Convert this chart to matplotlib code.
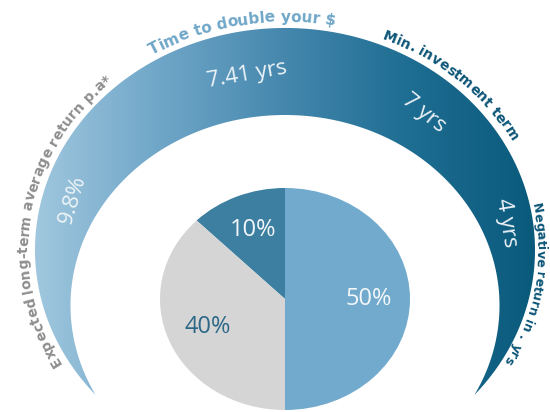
import numpy as np
import matplotlib
matplotlib.use('Agg')
import matplotlib.pyplot as plt
from matplotlib.colors import LinearSegmentedColormap
from matplotlib.font_manager import FontProperties
from matplotlib.path import Path
from matplotlib.patches import PathPatch

# what the chart says
metric_names = ['Expected long-term average return p.a*', 'Time to double your $',
                'Min. investment term', 'Negative return in . yrs']
metric_values = ['9.8%', '7.41 yrs', '7 yrs', '4 yrs']
alloc_labels = ['10%', '40%', '50%']
# wedge sizes as they are drawn in the picture (the 10% slice is drawn ~45 deg)
alloc_sizes = [12.5, 37.5, 50]

# layout (angles in degrees, counter-clockwise from 3 o'clock)
name_angles = [171, 100, 48, -9]
name_sizes = [10, 11, 10, 9]
name_gaps = [7, 7, 7, 2]
name_colors = ['#8e8e8e', '#6fa7c9', '#0d5677', '#0d5677']
value_angles = [165, 101, 48, 8]
alloc_colors = ['#3c7fa0', '#d5d5d5', '#71aacd']
alloc_text_colors = ['#f3f7f9', '#2c6886', '#f3f7f9']

W, H = 550, 412
K = 1.126  # picture is squashed vertically

fig = plt.figure(figsize=(5.5, 4.12), dpi=100)
ax = fig.add_axes([0, 0, 1, 1])


def dy(py):
    # pixel row -> data y
    return (H - py) * K


cx = 285
R_out, oy = 250, dy(250)
R_in, iy = 214.5, dy(305.5)

# crescent band: inside outer circle, outside inner circle
d = oy - iy
a = (d**2 + R_out**2 - R_in**2) / (2 * d)
h = np.sqrt(R_out**2 - a**2)
t_left = np.arctan2(-a, -h) + 2 * np.pi
t_right = np.arctan2(-a, h)
th_o = np.linspace(t_left, t_right, 400)
u_right = np.arctan2(d - a, h)
u_left = np.arctan2(d - a, -h) + 2 * np.pi
th_i = np.linspace(u_right, u_left, 400)
verts = np.vstack([np.column_stack([cx + R_out * np.cos(th_o), oy + R_out * np.sin(th_o)]),
                   np.column_stack([cx + R_in * np.cos(th_i), iy + R_in * np.sin(th_i)])])
band = PathPatch(Path(np.vstack([verts, verts[:1]]), closed=True),
                 transform=ax.transData, fc='none', ec='none')
ax.add_patch(band)

cmap = LinearSegmentedColormap.from_list('band', ['#a0c7de', '#6fa6c8', '#4587ad', '#1e6d92', '#0a5a7c'])
grad = np.linspace(0, 1, 256).reshape(1, -1)
im = ax.imshow(grad, extent=[cx - R_out, cx + R_out, 0, H * K], cmap=cmap,
               aspect='auto', interpolation='bicubic', zorder=1)
im.set_clip_path(band)

# pie
pie_c = (cx, dy(299))
pie_r = 125
wedges, _ = ax.pie(alloc_sizes, colors=alloc_colors, startangle=90, counterclock=True,
                   center=pie_c, radius=pie_r, wedgeprops=dict(linewidth=0))
for w, lab, col in zip(wedges, alloc_labels, alloc_text_colors):
    mid = np.deg2rad((w.theta1 + w.theta2) / 2)
    ax.text(pie_c[0] + 0.67 * pie_r * np.cos(mid), pie_c[1] + 0.67 * pie_r * np.sin(mid), lab,
            ha='center', va='center', fontsize=17, family='Open Sans', color=col)

ax.set_xlim(0, W)
ax.set_ylim(0, H * K)
ax.set_aspect('auto')
ax.axis('off')


def tangent_rot(th):
    return np.degrees(np.arctan2(-np.cos(th) / K, np.sin(th)))


# values inside the band
for val, ang in zip(metric_values, value_angles):
    th = np.deg2rad(ang)
    uy = np.sin(th)
    t = -uy * d + np.sqrt((uy * d)**2 - d**2 + R_in**2)
    rr = (t + R_out) / 2
    ax.text(cx + rr * np.cos(th), oy + rr * np.sin(th), val, rotation=tangent_rot(th),
            rotation_mode='anchor', ha='center', va='center', fontsize=16,
            family='Open Sans', color='#eef4f8', zorder=3)

renderer = fig.canvas.get_renderer()


def text_w(s, prop):
    return renderer.get_text_width_height_descent(s, prop, ismath=False)[0]


def px_per_rad(th, r):
    return r * np.hypot(np.sin(th), np.cos(th) / K)


def arc_text(s, ang_mid, r, prop, color):
    # advance of each char, measured in context so kerning is kept
    pre = [text_w(s[:i] + 'x', prop) for i in range(len(s) + 1)]
    widths = [pre[i + 1] - pre[i] for i in range(len(s))]
    mid = np.deg2rad(ang_mid)
    start = mid + sum(widths) / 2 / px_per_rad(mid, r)

    def walk(st):
        out = []
        th = st
        for w in widths:
            th -= w / 2 / px_per_rad(th, r)
            out.append(th)
            th -= w / 2 / px_per_rad(th, r)
        return out, th

    for _ in range(4):
        _, end = walk(start)
        start += mid - (start + end) / 2
    angles, _ = walk(start)
    for c, th in zip(s, angles):
        ax.text(cx + r * np.cos(th), oy + r * np.sin(th), c, rotation=tangent_rot(th),
                rotation_mode='anchor', ha='center', va='baseline',
                fontproperties=prop, color=color, zorder=3)


for name, ang, sz, gap, col in zip(metric_names, name_angles, name_sizes, name_gaps, name_colors):
    prop = FontProperties(family='DejaVu Sans', weight='bold', size=sz)
    arc_text(name, ang, R_out + gap, prop, col)

fig.savefig('out.png', dpi=100)
